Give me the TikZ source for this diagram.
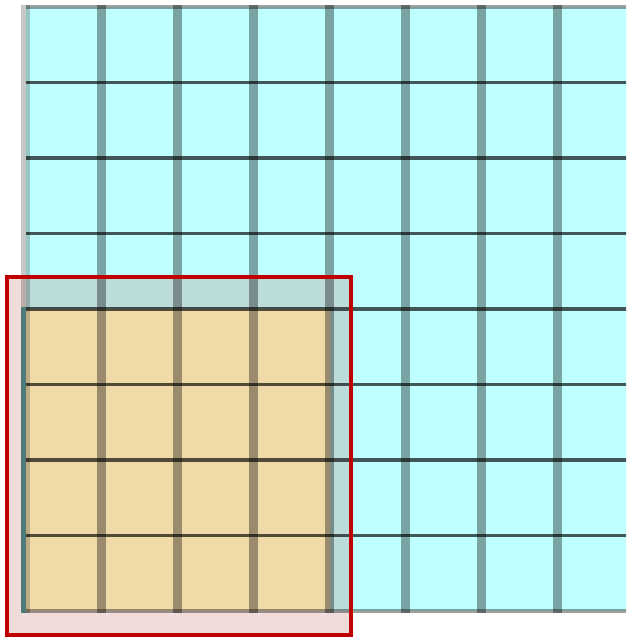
\documentclass[tikz,border=0pt]{standalone}
\usepackage{tikz}
\definecolor{cellcyan}{RGB}{192,255,255}
\definecolor{celltan}{RGB}{240,218,168}
\definecolor{boxred}{RGB}{192,0,0}
\definecolor{boxpink}{RGB}{170,40,40}
\definecolor{edgeteal}{RGB}{79,122,120}

\begin{document}
\begin{tikzpicture}[x=0.0265cm,y=-0.0265cm,
  vline/.style={line width=6.75pt,black,opacity=0.36},
  hline/.style={line width=2.6pt,black,opacity=0.66},
  rimline/.style={line width=3pt,black,opacity=0.37}]
  \useasboundingbox (0,0) rectangle (626,637);
  \clip (0,0) rectangle (626,637);

  \fill[cellcyan] (25.5,7) rectangle (640,611);
  \fill[boxpink,opacity=0.16] (7,277) rectangle (351,635);
  \fill[celltan] (25.5,309) rectangle (329.5,611);

  \foreach \j in {1,...,7}
    \draw[hline] (25.5,7+75.5*\j) -- (640,7+75.5*\j);
  \draw[rimline] (25.5,7) -- (640,7);
  \draw[rimline] (25.5,611) -- (640,611);

  \draw[vline,opacity=0.22] (25.5,5) -- (25.5,613);
  \foreach \i in {1,...,7}
    \draw[vline] (25.5+76*\i,5) -- (25.5+76*\i,613);
  \draw[edgeteal,line width=3.75pt] (23.5,307) -- (23.5,613);

  \draw[boxred,line width=3pt] (7,277) rectangle (351,635);
\end{tikzpicture}
\end{document}
